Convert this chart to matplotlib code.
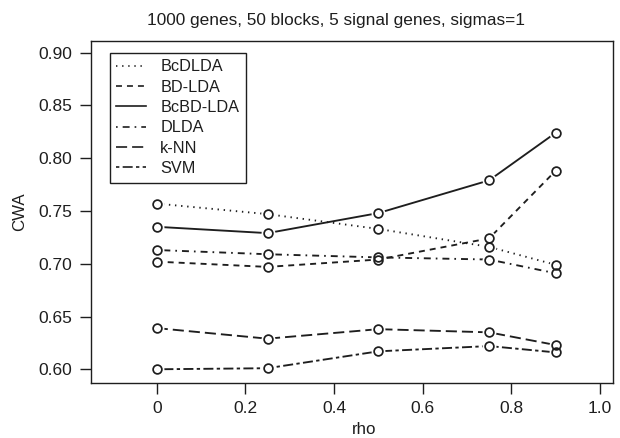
"""
CWA versus rho for six classifiers (1000 genes, 50 blocks, 5 signal genes)
"""

import matplotlib
matplotlib.use("Agg")
import matplotlib.pyplot as plt
from matplotlib.lines import Line2D

plt.rcParams["font.family"] = ["Liberation Sans", "DejaVu Sans"]
plt.rcParams["lines.scale_dashes"] = False

rho = [0, 0.25, 0.5, 0.75, 0.9]
methods = ["BcDLDA", "BD-LDA", "BcBD-LDA", "DLDA", "k-NN", "SVM"]
cwa_bcdlda = [0.757, 0.747, 0.733, 0.716, 0.699]
cwa_bdlda = [0.702, 0.697, 0.704, 0.724, 0.788]
cwa_bcbdlda = [0.735, 0.729, 0.748, 0.779, 0.824]
cwa_dlda = [0.713, 0.709, 0.706, 0.704, 0.691]
cwa_knn = [0.639, 0.629, 0.638, 0.635, 0.623]
cwa_svm = [0.600, 0.601, 0.617, 0.622, 0.616]
series = [cwa_bcdlda, cwa_bdlda, cwa_bcbdlda, cwa_dlda, cwa_knn, cwa_svm]

# R-like line types: dotted, dashed, solid, dotdash, longdash, twodash
styles = [
    (0, (1, 3.4)),
    (0, (4.3, 3.6)),
    "-",
    (0, (1.2, 3.6, 5, 3.6)),
    (0, (8, 3.6)),
    (0, (2.4, 2.4, 7.2, 2.4)),
]
ink = "#1e1e1e"

fig = plt.figure(figsize=(6.2, 4.38), dpi=100)
ax = fig.add_axes([0.147, 0.1263, 0.842, 0.7807])

for vals, ls in zip(series, styles):
    ax.plot(rho, vals, color=ink, lw=1.35, linestyle=ls, zorder=2)
# white halo so the lines stop short of the points (type="b")
for vals in series:
    ax.plot(rho, vals, linestyle="none", marker="o", ms=10, mfc="white",
            mec="white", mew=0, zorder=3)
for vals in series:
    ax.plot(rho, vals, linestyle="none", marker="o", ms=6.3, mfc="none",
            mec=ink, mew=1.25, zorder=4)

ax.set_xlim(-0.148, 1.03)
ax.set_ylim(0.5873, 0.9113)
ax.set_xticks([0, 0.2, 0.4, 0.6, 0.8, 1.0])
ax.set_xticklabels(["0", "0.2", "0.4", "0.6", "0.8", "1.0"])
ax.set_yticks([0.60, 0.65, 0.70, 0.75, 0.80, 0.85, 0.90])
ax.set_yticklabels(["%.2f" % v for v in ax.get_yticks()])
ax.tick_params(direction="out", length=8, width=1, labelsize=12.5,
               colors=ink, pad=5.5)
for sp in ax.spines.values():
    sp.set_linewidth(1)
    sp.set_color(ink)

ax.set_xlabel("rho", fontsize=12.2, color=ink, labelpad=1)
ax.xaxis.set_label_coords(0.522, -0.115)
ax.set_ylabel("CWA", fontsize=12.2, color=ink, labelpad=8)
ax.set_title("1000 genes, 50 blocks, 5 signal genes, sigmas=1",
             fontsize=12.4, color=ink, pad=11, x=0.47)

handles = [Line2D([], [], color=ink, lw=1.2, linestyle=ls)
           for ls in styles]
leg = ax.legend(handles, methods, loc="upper left",
                bbox_to_anchor=(0.036, 0.965), fontsize=11.7,
                handlelength=1.8, handletextpad=0.9, labelspacing=0.33,
                borderpad=0.4, borderaxespad=0, fancybox=False,
                framealpha=1, edgecolor=ink)
leg.get_frame().set_linewidth(1)
for t in leg.get_texts():
    t.set_color(ink)

fig.savefig("out.png", dpi=100)
